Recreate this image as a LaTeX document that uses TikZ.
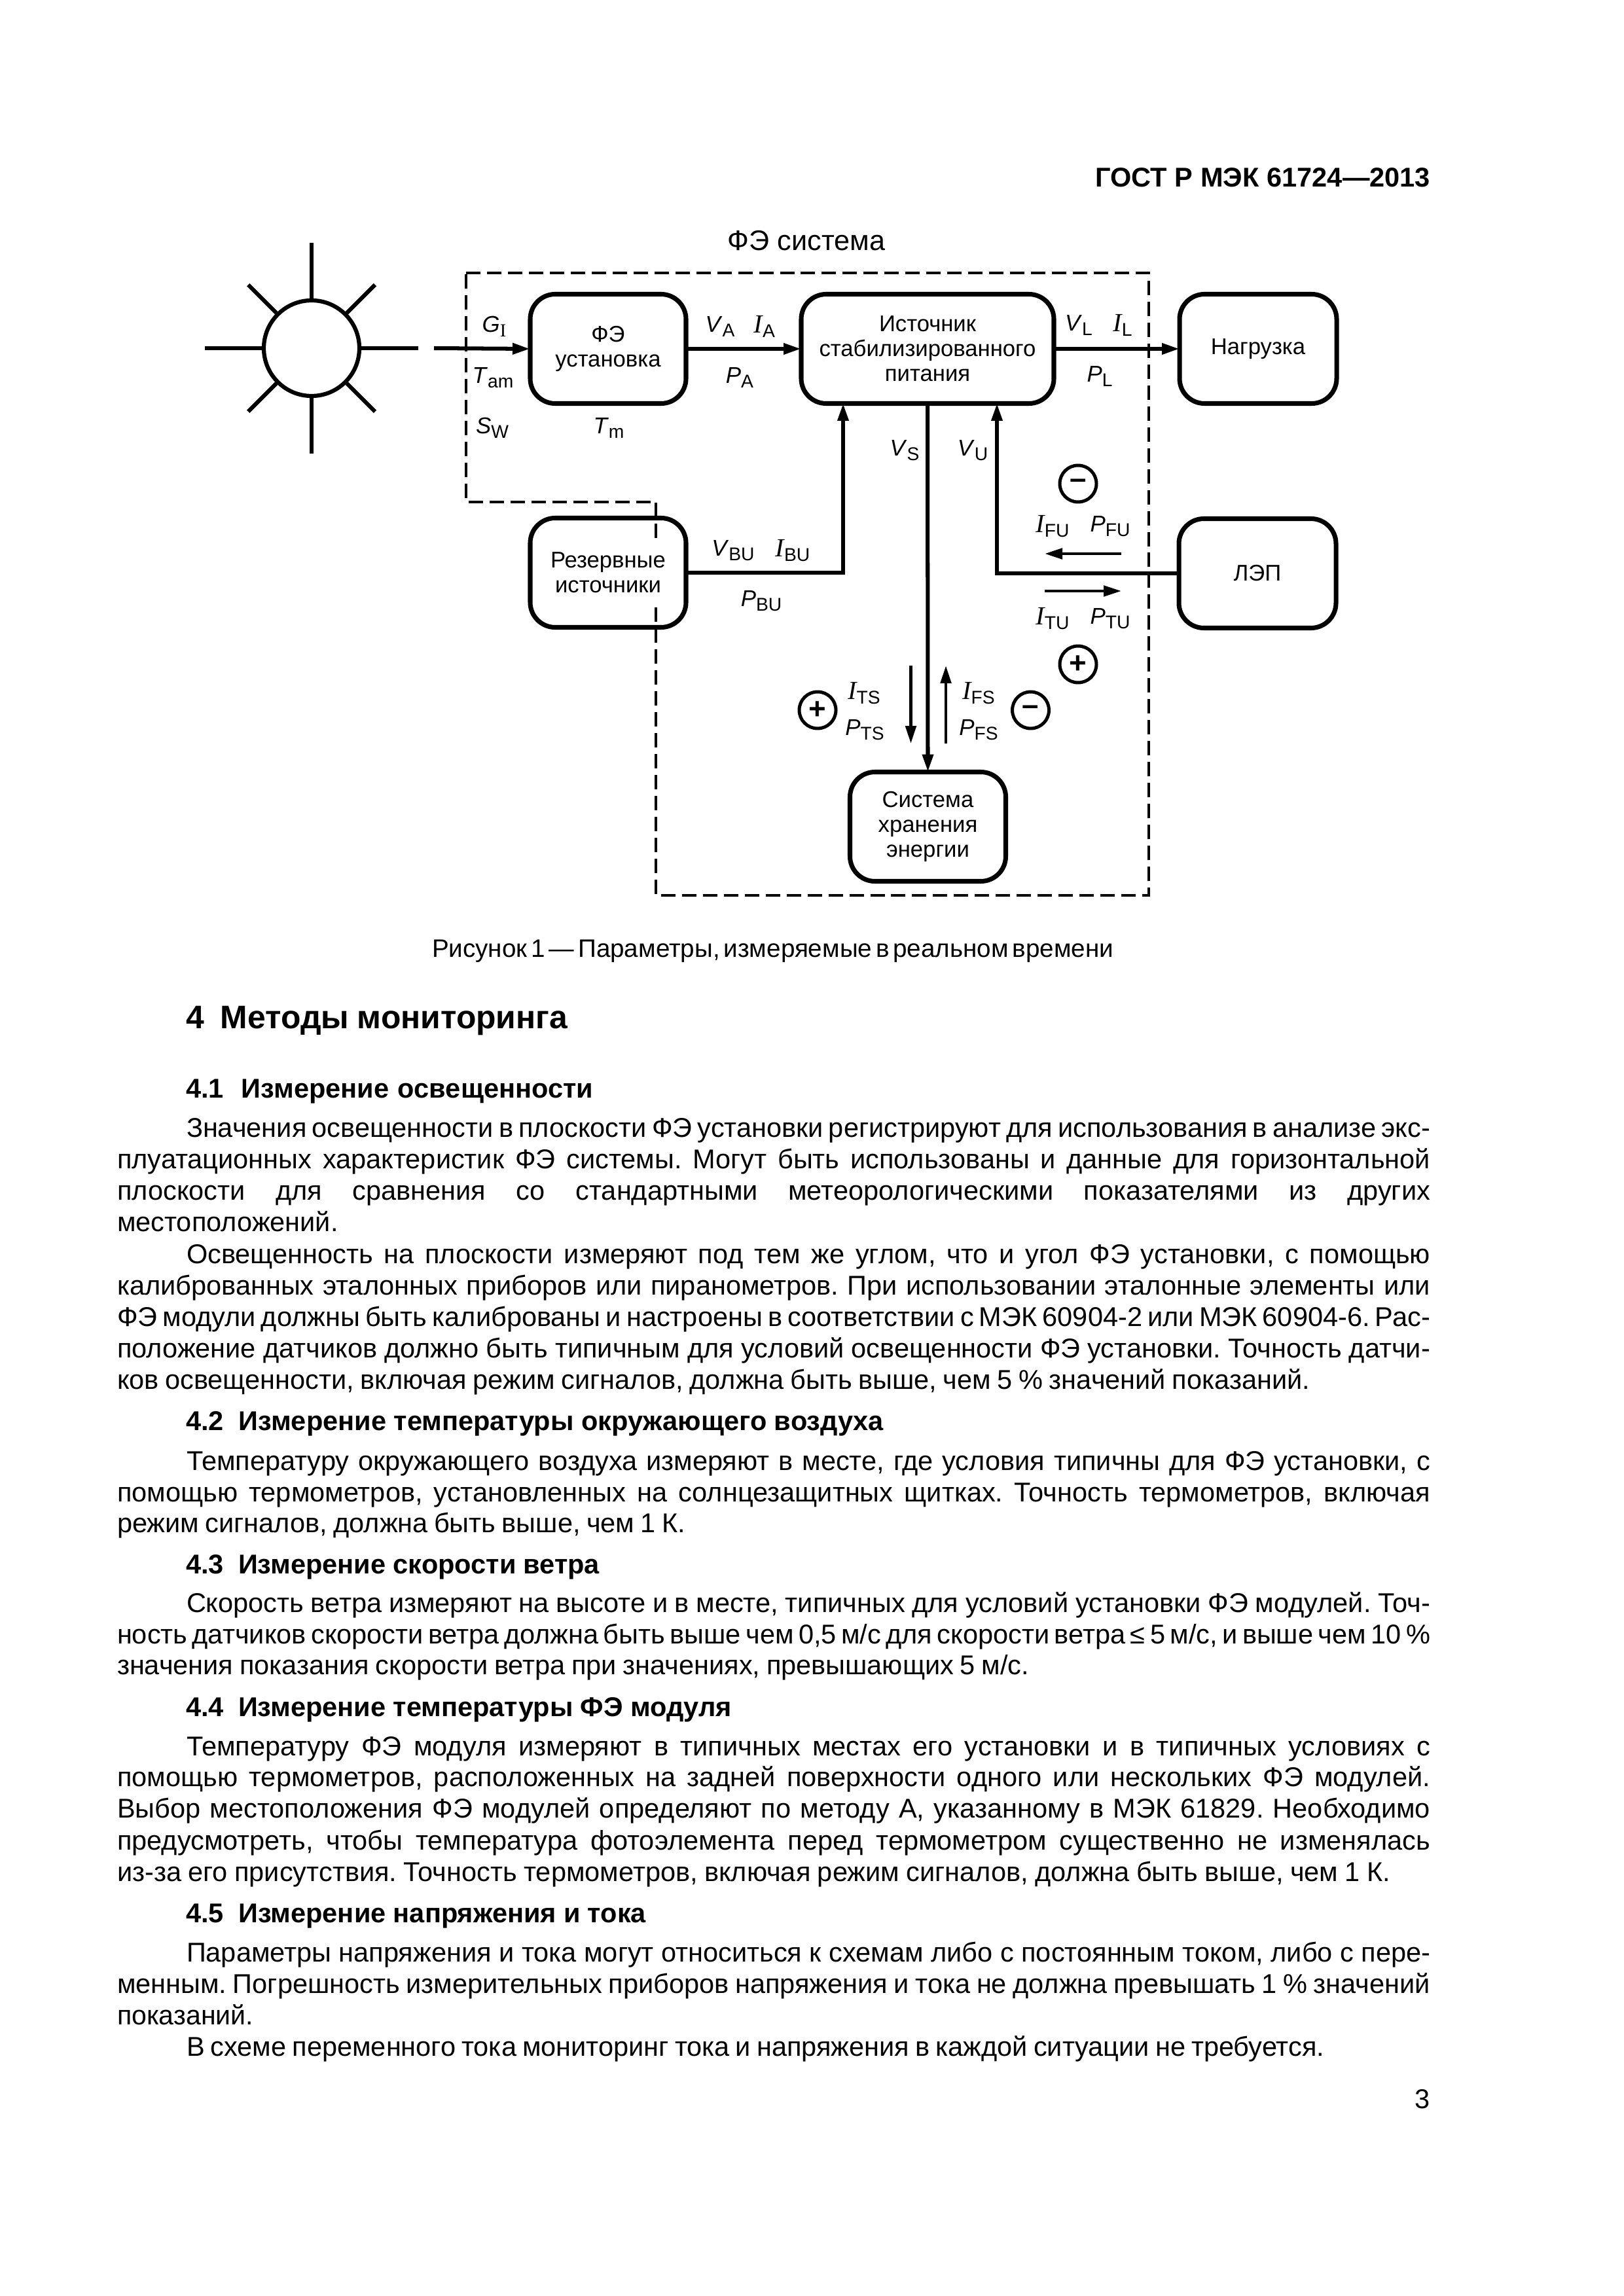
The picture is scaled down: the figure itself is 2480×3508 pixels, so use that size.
\documentclass[tikz,border=0pt]{standalone}
\usepackage{fontspec}
\usepackage{graphicx}
\usetikzlibrary{arrows.meta}
\setmainfont{Liberation Sans}
\newfontfamily\timesfont{Liberation Serif}
\frenchspacing
\newdimen\pxu \pxu=.24088pt
\newdimen\linew
\newsavebox\linebox
%%Строка текста точно заданной ширины
\newcommand\fitline[1]{\sbox\linebox{#1}\ifdim\wd\linebox>\linew
	\sbox\linebox{\spaceskip=.12em\relax #1}\ifdim\wd\linebox>\linew\resizebox{\linew}{\height}{\usebox\linebox}\else\makebox[\linew][s]{\spaceskip=.12em plus 1fil\relax #1}\fi
	\else\makebox[\linew][s]{#1}\fi}
\newcommand\txtrow[5]{\pgfmathsetlength\linew{(#4-#2)*\pxu}\node[txt] (#1) at (#2,#3) {\fitline{#5}};}
%%Обозначения на схеме
\newcommand\subfont{\fontsize{6.8}{8}\selectfont}
\newcommand\parm[2]{\textit{#1}\raisebox{-.4ex}{\subfont #2}}
\newcommand\parmI[1]{{\timesfont\itshape\fontsize{9.6}{10}\selectfont I}\raisebox{-.4ex}{\subfont #1}}
\begin{document}
\begin{tikzpicture}[x=.24088pt,y=-.24088pt,>={Triangle[length=6.5pt,width=3.9pt]},line join=miter]
	\tikzset{unit/.style={draw,line width=1.7pt,rounded corners=9.2pt,outer sep=0pt,inner sep=0pt,minimum width=238*\pxu,minimum height=167*\pxu,align=center,font=\fontsize{8.35}{9.2}\selectfont}}
	\tikzset{wire/.style={line width=1.45pt}}
	\tikzset{flow/.style={line width=1.1pt}}
	\tikzset{sign/.style={circle,draw,line width=1.2pt,minimum size=56*\pxu,inner sep=0pt,font=\fontsize{11}{11}\selectfont\bfseries}}
	\tikzset{val/.style={inner sep=0pt,font=\fontsize{8.4}{10}\selectfont}}
	\tikzset{txt/.style={anchor=base west,inner sep=0pt,outer sep=0pt,font=\fontsize{10}{12}\selectfont}}
	\useasboundingbox (0,0) rectangle (2480,3508);
	%%Граница ФЭ системы
	\coordinate (sa) at (712,417);
	\coordinate (sb) at (1755,417);
	\coordinate (sc) at (1755,1368);
	\coordinate (sd) at (1002,1368);
	\coordinate (se) at (1002,767);
	\coordinate (sf) at (712,767);
	\draw[line width=.87pt,dash pattern=on 5.3pt off 2.4pt] (sa)--(sb)--(sc)--(sd)--(se)--(sf)--cycle;
	\node[inner sep=0pt,font=\fontsize{10.4}{12}\selectfont] (title) at (1232,368) {ФЭ система};
	%%Солнце
	\node[circle,draw,line width=1.5pt,minimum size=146*\pxu,inner sep=0pt] (sun) at (476,532) {};
	\foreach \a/\l in {0/163,45/137,90/161,135/137,180/163,225/137,270/161,315/137}
		\draw[wire] (sun.\a) -- ([shift={(-\a:\l)}]sun.center);
	%%Блоки
	\node[unit] (pv) at (929,533) {ФЭ\\установка};
	\node[unit,minimum width=386*\pxu] (supply) at (1417,533) {Источник\\стабилизированного\\питания};
	\node[unit,minimum width=240*\pxu] (load) at (1922,533) {Нагрузка};
	\node[unit] (backup) at (929,875) {};
	\node[inner sep=0pt,fill=white,minimum height=105*\pxu,align=center,font=\fontsize{8.35}{9.2}\selectfont] (backuptxt) at (backup) {Резервные\\источники};
	\node[unit,minimum width=240*\pxu] (grid) at (1921,876) {ЛЭП};
	\node[unit] (storage) at (1417.5,1263) {Система\\хранения\\энергии};
	%%Связи
	\coordinate (sunin) at (663,532);
	\coordinate (bu) at (1288,616);
	\coordinate (ut) at (1523,616);
	\draw[wire,->] (sunin) -- (pv.west);
	\draw[wire,->] (pv.east) -- (supply.west);
	\draw[wire,->] (supply.east) -- (load.west);
	\draw[wire,->] (backup.east) -| (bu);
	\draw[wire,->] (grid.west) -| (ut);
	\draw[wire,->] (supply.south) -- (storage.north);
	%%Направления тока
	\coordinate (fua) at (1713,846);
	\coordinate (fub) at (1596,846);
	\coordinate (tua) at (1596,903);
	\coordinate (tub) at (1713,903);
	\coordinate (tsa) at (1391.5,1017);
	\coordinate (tsb) at (1391.5,1136);
	\coordinate (fsa) at (1445,1136);
	\coordinate (fsb) at (1445,1017);
	\draw[flow,->] (fua) -- (fub);
	\draw[flow,->] (tua) -- (tub);
	\draw[flow,->] (tsa) -- (tsb);
	\draw[flow,->] (fsa) -- (fsb);
	\node[sign] (minusu) at (1647,739) {–};
	\node[sign] (plusu) at (1647,1015) {+};
	\node[sign] (pluss) at (1249,1085) {+};
	\node[sign] (minuss) at (1574.5,1085) {–};
	%%Параметры
	\node[val] (gi) at (755,499) {\textit{G}\raisebox{-.4ex}{\timesfont\subfont I}};
	\node[val] (tam) at (753,577) {\parm{T}{am}};
	\node[val] (sw) at (752,654) {\parm{S}{W}};
	\node[val] (tm) at (930,654) {\parm{T}{m}};
	\node[val] (va) at (1100,499) {\parm{V}{A}};
	\node[val] (ia) at (1168,499) {\parmI{A}};
	\node[val] (pa) at (1130,577) {\parm{P}{A}};
	\node[val] (vl) at (1648,497) {\parm{V}{L}};
	\node[val] (il) at (1715,497) {\parmI{L}};
	\node[val] (pl) at (1680,575) {\parm{P}{L}};
	\node[val] (vbu) at (1120,841) {\parm{V}{BU}};
	\node[val] (ibu) at (1211,841) {\parmI{BU}};
	\node[val] (pbu) at (1163,918) {\parm{P}{BU}};
	\node[val] (vs) at (1382,688) {\parm{V}{S}};
	\node[val] (vu) at (1486,688) {\parm{V}{U}};
	\node[val] (ifu) at (1608,804) {\parmI{FU}};
	\node[val] (pfu) at (1696,804) {\parm{P}{FU}};
	\node[val] (itu) at (1608,945) {\parmI{TU}};
	\node[val] (ptu) at (1696,945) {\parm{P}{TU}};
	\node[val] (its) at (1320,1059) {\parmI{TS}};
	\node[val] (pts) at (1321,1115) {\parm{P}{TS}};
	\node[val] (ifs) at (1495,1059) {\parmI{FS}};
	\node[val] (pfs) at (1495,1115) {\parm{P}{FS}};
	%%Текст страницы
	\txtrow{head}{1673}{286}{2185}{\bfseries ГОСТ Р МЭК 61724—2013}
	\txtrow{cap}{660}{1462}{1701}{\fontsize{9.3}{12}\selectfont Рисунок 1 — Параметры, измеряемые в реальном времени}
	\txtrow{sec}{284}{1571}{867}{\fontsize{12}{14}\selectfont\bfseries 4\ \ Методы мониторинга}
	\txtrow{sa}{284}{1677}{906}{\bfseries 4.1\ \ Измерение освещенности}
	\txtrow{la}{285}{1737}{2185}{Значения освещенности в плоскости ФЭ установки регистрируют для использования в анализе экс-}
	\txtrow{lb}{179}{1785}{2185}{плуатационных характеристик ФЭ системы. Могут быть использованы и данные для горизонтальной}
	\txtrow{lc}{179}{1833}{2185}{плоскости для сравнения со стандартными метеорологическими показателями из других}
	\txtrow{ld}{179}{1881}{518}{местоположений.}
	\txtrow{le}{285}{1930}{2185}{Освещенность на плоскости измеряют под тем же углом, что и угол ФЭ установки, с помощью}
	\txtrow{lf}{179}{1978}{2185}{калиброванных эталонных приборов или пиранометров. При использовании эталонные элементы или}
	\txtrow{lg}{179}{2026}{2185}{ФЭ модули должны быть калиброваны и настроены в соответствии с МЭК 60904-2 или МЭК 60904-6. Рас-}
	\txtrow{lh}{179}{2074}{2185}{положение датчиков должно быть типичным для условий освещенности ФЭ установки. Точность датчи-}
	\txtrow{li}{179}{2122}{2001}{ков освещенности, включая режим сигналов, должна быть выше, чем 5 \% значений показаний.}
	\txtrow{sb}{284}{2185}{1350}{\bfseries 4.2\ \ Измерение температуры окружающего воздуха}
	\txtrow{lj}{285}{2246}{2185}{Температуру окружающего воздуха измеряют в месте, где условия типичны для ФЭ установки, с}
	\txtrow{lk}{179}{2294}{2185}{помощью термометров, установленных на солнцезащитных щитках. Точность термометров, включая}
	\txtrow{ll}{179}{2341}{1047}{режим сигналов, должна быть выше, чем 1 К.}
	\txtrow{sc}{284}{2404}{916}{\bfseries 4.3\ \ Измерение скорости ветра}
	\txtrow{lm}{285}{2463}{2185}{Скорость ветра измеряют на высоте и в месте, типичных для условий установки ФЭ модулей. Точ-}
	\txtrow{ln}{179}{2511}{2185}{ность датчиков скорости ветра должна быть выше чем 0,5 м/с для скорости ветра ≤ 5 м/с, и выше чем 10 \%}
	\txtrow{lo}{179}{2558}{1572}{значения показания скорости ветра при значениях, превышающих 5 м/с.}
	\txtrow{sd}{284}{2622}{1118}{\bfseries 4.4\ \ Измерение температуры ФЭ модуля}
	\txtrow{lp}{285}{2682}{2185}{Температуру ФЭ модуля измеряют в типичных местах его установки и в типичных условиях с}
	\txtrow{lq}{179}{2729}{2185}{помощью термометров, расположенных на задней поверхности одного или нескольких ФЭ модулей.}
	\txtrow{lr}{179}{2777}{2185}{Выбор местоположения ФЭ модулей определяют по методу А, указанному в МЭК 61829. Необходимо}
	\txtrow{ls}{179}{2826}{2185}{предусмотреть, чтобы температура фотоэлемента перед термометром существенно не изменялась}
	\txtrow{lt}{179}{2874}{2124}{из-за его присутствия. Точность термометров, включая режим сигналов, должна быть выше, чем 1 К.}
	\txtrow{se}{284}{2937}{987}{\bfseries 4.5\ \ Измерение напряжения и тока}
	\txtrow{lu}{285}{2997}{2185}{Параметры напряжения и тока могут относиться к схемам либо с постоянным током, либо с пере-}
	\txtrow{lv}{179}{3045}{2185}{менным. Погрешность измерительных приборов напряжения и тока не должна превышать 1 \% значений}
	\txtrow{lw}{179}{3093}{387}{показаний.}
	\txtrow{lx}{285}{3141}{2023}{В схеме переменного тока мониторинг тока и напряжения в каждой ситуации не требуется.}
	\node[txt,anchor=base east] (pagenum) at (2185,3221) {3};
\end{tikzpicture}
\end{document}
